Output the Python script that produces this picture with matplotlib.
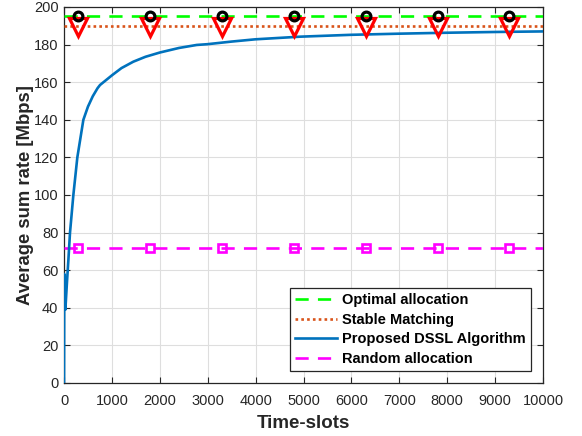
import matplotlib
matplotlib.use('Agg')
import matplotlib.pyplot as plt

plt.rcParams['font.family'] = ['Liberation Sans', 'DejaVu Sans']

# Proposed DSSL learning curve
slots = [0, 5, 28, 60, 90, 125, 195, 278, 404, 500, 600, 700, 752, 800,
         1008, 1200, 1447, 1700, 2004, 2400, 2770, 2992, 3500, 3994, 4927,
         6000, 7000, 8000, 9000, 10000]
dssl = [0, 58, 39, 53, 65, 80, 100, 120, 140, 147, 152.5, 156.8, 158.5, 159.5,
        163.8, 167.5, 170.9, 173.5, 175.8, 178.2, 179.8, 180.2, 181.6, 182.8,
        184.2, 185.2, 185.8, 186.3, 186.7, 187.0]

optimal_rate = 195
stable_rate = 190
random_rate = 72
x_span = [0, 10000]

marker_x = [300, 1800, 3300, 4800, 6300, 7800, 9300]
stable_marker_rate = 189.3

x_ticks = list(range(0, 10001, 1000))
y_ticks = list(range(0, 201, 20))

green = (0, 1, 0)
orange = (0.85, 0.325, 0.098)
blue = (0, 0.447, 0.741)
magenta = (1, 0, 1)
dark = (0.15, 0.15, 0.15)

fig = plt.figure(figsize=(5.82, 4.36), dpi=100)
ax = fig.add_axes([0.110, 0.1216, 0.823, 0.8624])

lw = 1.9
ax.plot(x_span, [optimal_rate] * 2, color=green, lw=lw, ls=(0, (5, 3.5)),
        label='Optimal allocation', zorder=3)
ax.plot(x_span, [stable_rate] * 2, color=orange, lw=lw, ls=(0, (1, 1.2)),
        label='Stable Matching', zorder=3)
ax.plot(slots, dssl, color=blue, lw=lw, label='Proposed DSSL Algorithm', zorder=4)
ax.plot(x_span, [random_rate] * 2, color=magenta, lw=lw, ls=(0, (5, 3.5)),
        label='Random allocation', zorder=3)

# markers drawn separately, not in legend
ax.plot(marker_x, [stable_marker_rate] * len(marker_x), ls='none', marker='v',
        ms=13.5, mfc='none', mec=(1, 0, 0), mew=2.3, zorder=5, clip_on=False)
ax.plot(marker_x, [optimal_rate] * len(marker_x), ls='none', marker='o',
        ms=6.3, mfc='none', mec='black', mew=2.3, zorder=6, clip_on=False)
ax.plot(marker_x, [random_rate] * len(marker_x), ls='none', marker='s',
        ms=6, mfc='none', mec=magenta, mew=1.9, zorder=5)

ax.set_xlim(0, 10000)
ax.set_ylim(0, 200)
ax.set_xticks(x_ticks)
ax.set_yticks(y_ticks)
ax.tick_params(direction='in', length=4, width=0.8, colors=dark,
               labelsize=10.5, top=True, right=True, pad=4)
ax.tick_params(axis='x', pad=8)
for s in ax.spines.values():
    s.set_color(dark)
    s.set_linewidth(0.9)
ax.grid(True, color=(0.87, 0.87, 0.87), lw=0.8)
ax.set_axisbelow(True)

ax.set_xlabel('Time-slots', fontsize=13.5, fontweight='bold', color=dark, labelpad=5)
ax.set_ylabel('Average sum rate [Mbps]', fontsize=13.3, fontweight='bold', color=dark,
              labelpad=0)

leg = ax.legend(loc='lower right', bbox_to_anchor=(0.975, 0.032),
                prop={'weight': 'bold', 'size': 10.5}, frameon=True, fancybox=False,
                edgecolor=dark, framealpha=1, handlelength=2.9, handletextpad=0.35,
                borderpad=0.35, labelspacing=0.38, borderaxespad=0)
leg.get_frame().set_linewidth(0.9)

fig.savefig('out.png', dpi=100)
